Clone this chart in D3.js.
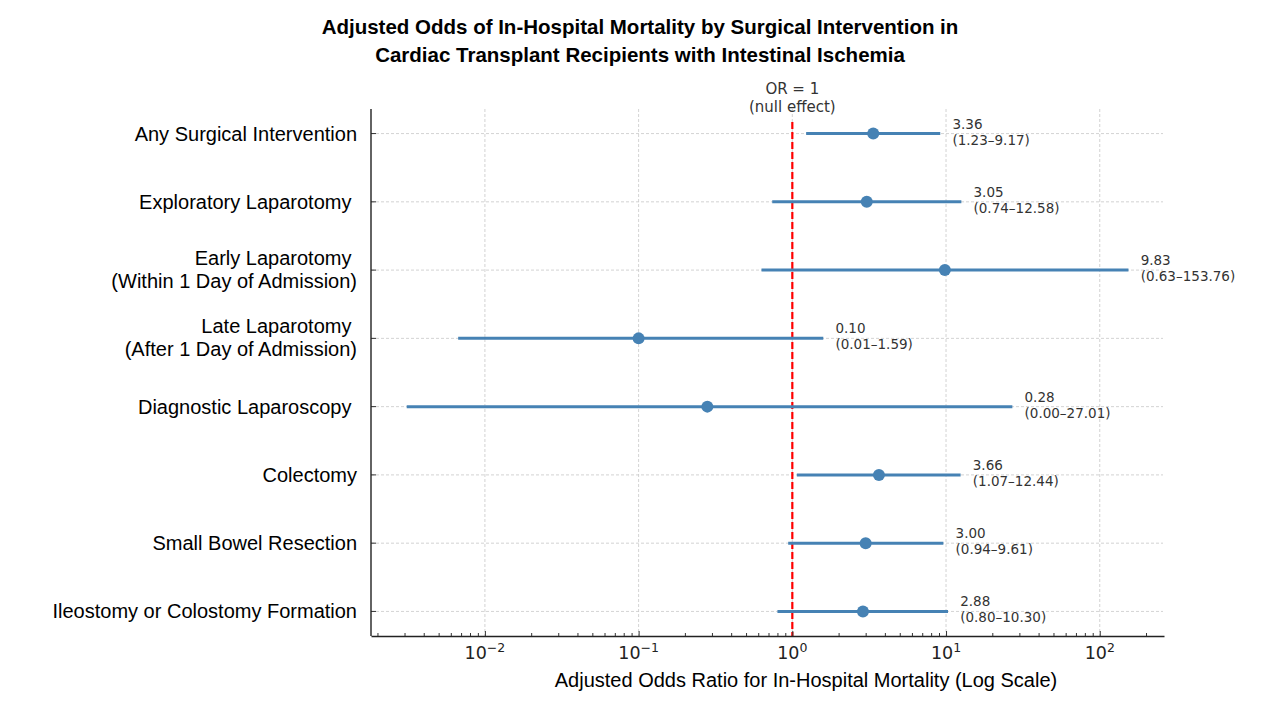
<!DOCTYPE html>
<html>
<head>
<meta charset="utf-8">
<script src="https://cdn.jsdelivr.net/npm/d3@7"></script>
<style>
  body { margin: 0; background: #fff; }
  svg { display: block; }
  .ylab { white-space: pre; }
</style>
</head>
<body>
<svg id="chart" width="1280" height="720"></svg>
<script>
// data
var categories = [
  "Any Surgical Intervention",
  "Exploratory Laparotomy ",
  "Early Laparotomy \n(Within 1 Day of Admission)",
  "Late Laparotomy \n(After 1 Day of Admission)",
  "Diagnostic Laparoscopy ",
  "Colectomy",
  "Small Bowel Resection",
  "Ileostomy or Colostomy Formation"
];
var oddsRatio = [3.36, 3.05, 9.83, 0.10, 0.28, 3.66, 3.00, 2.88];
var ciLower   = [1.23, 0.74, 0.63, 0.0067, 0.0031, 1.07, 0.94, 0.80];
var ciUpper   = [9.17, 12.58, 153.76, 1.59, 27.01, 12.44, 9.61, 10.30];
var decadeTicks = [0.01, 0.1, 1, 10, 100];
var decadeExp   = ["\u22122", "\u22121", "0", "1", "2"];

var svg = d3.select("#chart");
var plotLeft = 371, plotRight = 1164, plotTop = 109, plotBottom = 636;

var x = d3.scaleLog()
  .domain([Math.pow(10, -2.741), Math.pow(10, 2.418)])
  .range([plotLeft, plotRight]);

var y = d3.scalePoint()
  .domain(d3.range(categories.length))
  .range([plotTop, plotBottom])
  .padding(0.36);

var idx = d3.range(categories.length);

// grid
svg.append("g").selectAll("line")
  .data(idx)
  .enter().append("line")
  .attr("x1", plotLeft).attr("x2", plotRight - 1)
  .attr("y1", function(d){ return y(d); })
  .attr("y2", function(d){ return y(d); })
  .attr("stroke", "#c8c8c8").attr("stroke-width", 0.8)
  .attr("stroke-dasharray", "3,2");

svg.append("g").selectAll("line")
  .data(decadeTicks)
  .enter().append("line")
  .attr("x1", function(d){ return x(d); })
  .attr("x2", function(d){ return x(d); })
  .attr("y1", plotTop).attr("y2", plotBottom)
  .attr("stroke", "#c8c8c8").attr("stroke-width", 0.8)
  .attr("stroke-dasharray", "3,2");

// null effect line
svg.append("line")
  .attr("x1", x(1)).attr("x2", x(1))
  .attr("y1", 122).attr("y2", plotBottom)
  .attr("stroke", "#ff0000").attr("stroke-width", 2.2)
  .attr("stroke-dasharray", "7,3");

svg.append("text")
  .attr("x", x(1)).attr("y", 94)
  .attr("text-anchor", "middle")
  .style("font", "15px 'DejaVu Sans'").attr("fill", "#333")
  .text("OR = 1");
svg.append("text")
  .attr("x", x(1)).attr("y", 112)
  .attr("text-anchor", "middle")
  .style("font", "15px 'DejaVu Sans'").attr("fill", "#333")
  .text("(null effect)");

// confidence intervals
svg.append("g").selectAll("line")
  .data(idx)
  .enter().append("line")
  .attr("x1", function(i){ return x(ciLower[i]); })
  .attr("x2", function(i){ return x(ciUpper[i]); })
  .attr("y1", function(i){ return y(i); })
  .attr("y2", function(i){ return y(i); })
  .attr("stroke", "#4682b4").attr("stroke-width", 3);

svg.append("g").selectAll("circle")
  .data(idx)
  .enter().append("circle")
  .attr("cx", function(i){ return x(oddsRatio[i]); })
  .attr("cy", function(i){ return y(i); })
  .attr("r", 6)
  .attr("fill", "#4682b4");

// value annotations
var ann = svg.append("g").selectAll("text")
  .data(idx)
  .enter().append("text")
  .attr("x", function(i){ return x(ciUpper[i] * 1.2); })
  .attr("y", function(i){ return y(i); })
  .style("font", "13.5px 'DejaVu Sans'").attr("fill", "#333");
ann.append("tspan")
  .attr("dy", -5)
  .text(function(i){ return oddsRatio[i].toFixed(2); });
ann.append("tspan")
  .attr("x", function(i){ return x(ciUpper[i] * 1.2); })
  .attr("dy", 16)
  .text(function(i){ return "(" + ciLower[i].toFixed(2) + "\u2013" + ciUpper[i].toFixed(2) + ")"; });

// y labels
var yl = svg.append("g").selectAll("text")
  .data(idx)
  .enter().append("text")
  .attr("class", "ylab")
  .attr("text-anchor", "end")
  .attr("y", function(i){ return y(i); })
  .style("font", "20px 'Liberation Sans', Arial, sans-serif").attr("fill", "#000");
yl.each(function(i){
  var lines = categories[i].split("\n");
  var t = d3.select(this);
  lines.forEach(function(s, k){
    t.append("tspan")
      .attr("x", 357)
      .attr("dy", k === 0 ? (lines.length === 1 ? 7 : -5) : 23)
      .text(s);
  });
});

// y ticks (inward)
svg.append("g").selectAll("line")
  .data(idx)
  .enter().append("line")
  .attr("x1", plotLeft).attr("x2", plotLeft + 5)
  .attr("y1", function(i){ return y(i); })
  .attr("y2", function(i){ return y(i); })
  .attr("stroke", "#333").attr("stroke-width", 1);

// x axis with inward major/minor ticks
var allTicks = x.ticks().filter(function(d){ return d >= x.domain()[0] && d <= x.domain()[1]; });
var xAxis = d3.axisBottom(x)
  .tickValues(allTicks)
  .tickSizeInner(-3)
  .tickSizeOuter(0)
  .tickFormat("");
var gx = svg.append("g")
  .attr("transform", "translate(0," + plotBottom + ")")
  .call(xAxis);
gx.select(".domain").attr("stroke", "#222").attr("stroke-width", 1.4);
gx.selectAll(".tick line")
  .attr("stroke", "#333")
  .attr("y2", function(d){ return decadeTicks.indexOf(d) >= 0 ? -5 : -3; });

var tl = svg.append("g").selectAll("text")
  .data(decadeTicks)
  .enter().append("text")
  .attr("x", function(d){ return x(d); })
  .attr("y", 659)
  .attr("text-anchor", "middle")
  .style("font", "17.5px 'DejaVu Sans'").attr("fill", "#222");
tl.append("tspan").text("10");
tl.append("tspan")
  .attr("dy", -7)
  .style("font-size", "12.5px")
  .text(function(d, i){ return decadeExp[i]; });

// left spine
svg.append("line")
  .attr("x1", plotLeft).attr("x2", plotLeft)
  .attr("y1", plotTop).attr("y2", plotBottom)
  .attr("stroke", "#222").attr("stroke-width", 1.4);

// axis title
svg.append("text")
  .attr("x", 806).attr("y", 687)
  .attr("text-anchor", "middle")
  .style("font", "20px 'Liberation Sans', Arial, sans-serif").attr("fill", "#000")
  .text("Adjusted Odds Ratio for In-Hospital Mortality (Log Scale)");

// title
var title = ["Adjusted Odds of In-Hospital Mortality by Surgical Intervention in",
             "Cardiac Transplant Recipients with Intestinal Ischemia"];
svg.append("g").selectAll("text")
  .data(title)
  .enter().append("text")
  .attr("x", 640)
  .attr("y", function(d, i){ return 34 + i * 28; })
  .attr("text-anchor", "middle")
  .style("font", "bold 20.5px 'Liberation Sans', Arial, sans-serif").attr("fill", "#000")
  .text(function(d){ return d; });
</script>
</body>
</html>
